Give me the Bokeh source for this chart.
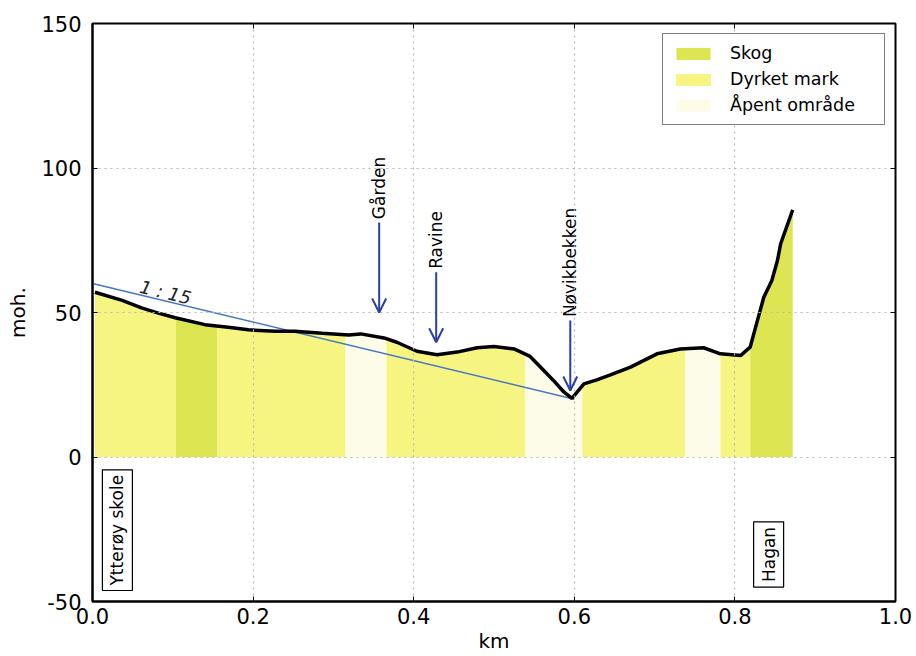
import numpy as np
from bokeh.plotting import figure
from bokeh.models import (ColumnDataSource, Arrow, OpenHead, Label, Legend, LegendItem,
                          FixedTicker, PrintfTickFormatter, LinearAxis)
from bokeh.core.properties import value
from bokeh.embed import file_html
from bokeh.resources import INLINE

# Elevation profile along the walk (distance in km, height in m above sea level)
dist_km = [0.003, 0.037, 0.061, 0.082, 0.103, 0.140, 0.169, 0.194, 0.228, 0.252,
           0.286, 0.319, 0.334, 0.363, 0.379, 0.404, 0.429, 0.454, 0.479, 0.500,
           0.525, 0.545, 0.562, 0.574, 0.587, 0.597, 0.612, 0.628, 0.645, 0.670,
           0.703, 0.732, 0.761, 0.782, 0.807, 0.819, 0.828, 0.836, 0.846, 0.853,
           0.857, 0.872]
elev_m = [57.0, 54.2, 51.6, 49.8, 48.2, 45.8, 44.9, 44.0, 43.5, 43.5,
          42.8, 42.2, 42.6, 41.2, 39.7, 36.6, 35.4, 36.3, 37.8, 38.2,
          37.4, 34.8, 29.9, 26.5, 22.5, 20.3, 25.3, 26.7, 28.4, 31.1,
          35.7, 37.4, 37.8, 35.7, 35.1, 38.0, 47.2, 55.3, 61.1, 68.0,
          73.8, 85.5]

# Land cover along the profile
band_start = [0.003, 0.104, 0.155, 0.315, 0.366, 0.539, 0.610, 0.738, 0.782, 0.819]
band_end = [0.104, 0.155, 0.315, 0.366, 0.539, 0.610, 0.738, 0.782, 0.819, 0.872]
band_type = ["Dyrket mark", "Skog", "Dyrket mark", "Åpent område", "Dyrket mark",
             "Åpent område", "Dyrket mark", "Åpent område", "Dyrket mark", "Skog"]
cover_types = ["Skog", "Dyrket mark", "Åpent område"]
cover_colors = {"Skog": "#dde652", "Dyrket mark": "#f6f582", "Åpent område": "#fcfce8"}

# Average gradient 1:15
grade_km = [0.0, 0.6]
grade_m = [60.0, 20.0]
grade_text = "1 : 15"

# Named points with arrows
marker_names = ["Gården", "Ravine", "Nøvikbekken"]
marker_km = [0.357, 0.428, 0.595]
arrow_top = [81.1, 63.9, 47.2]
arrow_tip = [50.0, 39.7, 23.0]

# Start and end of the route
start_name, start_km = "Ytterøy skole", 0.031
end_name, end_km = "Hagan", 0.842

x_ticks = [0.0, 0.2, 0.4, 0.6, 0.8, 1.0]
y_ticks = [-50, 0, 50, 100, 150]

FONT = "DejaVu Sans"
ARROW_BLUE = "#2b3fa6"

p = figure(width=916, height=656, x_range=(0, 1), y_range=(-50, 150),
           output_backend="svg", toolbar_location=None,
           min_border_left=92, min_border_right=21, min_border_top=23, min_border_bottom=55)
p.background_fill_color = "white"
p.outline_line_color = "black"
p.outline_line_width = 2

# Filled land-cover bands under the profile
px = np.array(dist_km)
py = np.array(elev_m)
band_renderers = {t: [] for t in cover_types}
for s, e, t in zip(band_start, band_end, band_type):
    inner = px[(px > s) & (px < e)]
    xs = np.concatenate([[s], inner, [e]])
    ys = np.interp(xs, px, py)
    r = p.varea(x=xs, y1=np.zeros_like(xs), y2=ys, fill_color=cover_colors[t])
    r.level = "underlay"
    band_renderers[t].append(r)

# Gradient line and its label
p.line(grade_km, grade_m, line_color="#4677c4", line_width=1.5)
p.add_layout(Label(x=0.091, y=57.0, text=grade_text, angle=-13.5, angle_units="deg",
                   text_align="center", text_baseline="middle", text_font=FONT,
                   text_font_size="18px", text_font_style="italic", text_color="#222222"))

# Elevation profile
p.line(dist_km, elev_m, line_color="black", line_width=3.5)

# Arrows and rotated names
arrow_src = ColumnDataSource(dict(x=marker_km, y0=arrow_top, y1=arrow_tip))
p.add_layout(Arrow(end=OpenHead(size=14, line_color=ARROW_BLUE, line_width=2),
                   x_start="x", y_start="y0", x_end="x", y_end="y1",
                   line_color=ARROW_BLUE, line_width=2, source=arrow_src))
name_src = ColumnDataSource(dict(x=marker_km, y=[t + 1.2 for t in arrow_top], text=marker_names))
p.text(x="x", y="y", text="text", source=name_src, angle=np.pi / 2,
       text_align="left", text_baseline="middle", text_font=value(FONT),
       text_font_size="17px", text_color="black")

# Boxed start/end labels
for name, xk, yk in [(start_name, start_km, -46.2), (end_name, end_km, -45.0)]:
    p.add_layout(Label(x=xk, y=yk, text=name, angle=90, angle_units="deg",
                       text_align="left", text_baseline="middle", text_font=FONT,
                       text_font_size="17px", text_color="black", padding=5,
                       border_line_color="black", border_line_width=1.2,
                       background_fill_color="white"))

# Legend
legend = Legend(items=[LegendItem(label=t, renderers=band_renderers[t]) for t in cover_types],
                location="top_right")
legend.label_text_font = FONT
legend.label_text_font_size = "17.5px"
legend.label_text_color = "black"
legend.glyph_width = 42
legend.glyph_height = 15
legend.label_height = 20
legend.label_width = 145
legend.spacing = 6
legend.padding = 9
legend.margin = 10
legend.label_standoff = 16
legend.border_line_color = "black"
legend.border_line_width = 1.2
legend.background_fill_alpha = 1.0
p.add_layout(legend)

# Axes
for ax in (p.xaxis[0], p.yaxis[0]):
    ax.major_tick_in = 5
    ax.major_tick_out = 0
    ax.minor_tick_line_color = None
    ax.axis_line_color = "black"
    ax.axis_line_width = 2
    ax.major_tick_line_color = "black"
    ax.major_label_text_font = FONT
    ax.major_label_text_font_size = "21px"
    ax.major_label_text_color = "black"
    ax.axis_label_text_font = FONT
    ax.axis_label_text_font_size = "20px"
    ax.axis_label_text_font_style = "normal"
    ax.axis_label_text_color = "black"

p.xaxis.ticker = FixedTicker(ticks=x_ticks)
p.xaxis.formatter = PrintfTickFormatter(format="%.1f")
p.xaxis.axis_label = "km"
p.xaxis.major_label_standoff = 6
p.xaxis.axis_label_standoff = 2
p.yaxis.ticker = FixedTicker(ticks=y_ticks)
p.yaxis.formatter = PrintfTickFormatter(format="%d")
p.yaxis.axis_label = "moh."
p.yaxis.major_label_standoff = 11
p.yaxis.axis_label_standoff = 8

# Inward ticks on the top and right edges as well
p.add_layout(LinearAxis(ticker=FixedTicker(ticks=y_ticks), major_label_text_font_size="0px",
                        major_label_standoff=0, major_tick_in=5, major_tick_out=0,
                        minor_tick_line_color=None, axis_line_color=None), "right")
p.add_layout(LinearAxis(ticker=FixedTicker(ticks=x_ticks), major_label_text_font_size="0px",
                        major_label_standoff=0, major_tick_in=5, major_tick_out=0,
                        minor_tick_line_color=None, axis_line_color=None), "above")

# Dotted grid drawn over the fills
for g in (p.xgrid[0], p.ygrid[0]):
    g.grid_line_color = "#b8b8b8"
    g.grid_line_dash = "2 4"
    g.grid_line_width = 1.2
    g.level = "glyph"
p.xgrid.ticker = FixedTicker(ticks=x_ticks)
p.ygrid.ticker = FixedTicker(ticks=y_ticks)

open("out.html", "w").write(file_html(p, INLINE))
